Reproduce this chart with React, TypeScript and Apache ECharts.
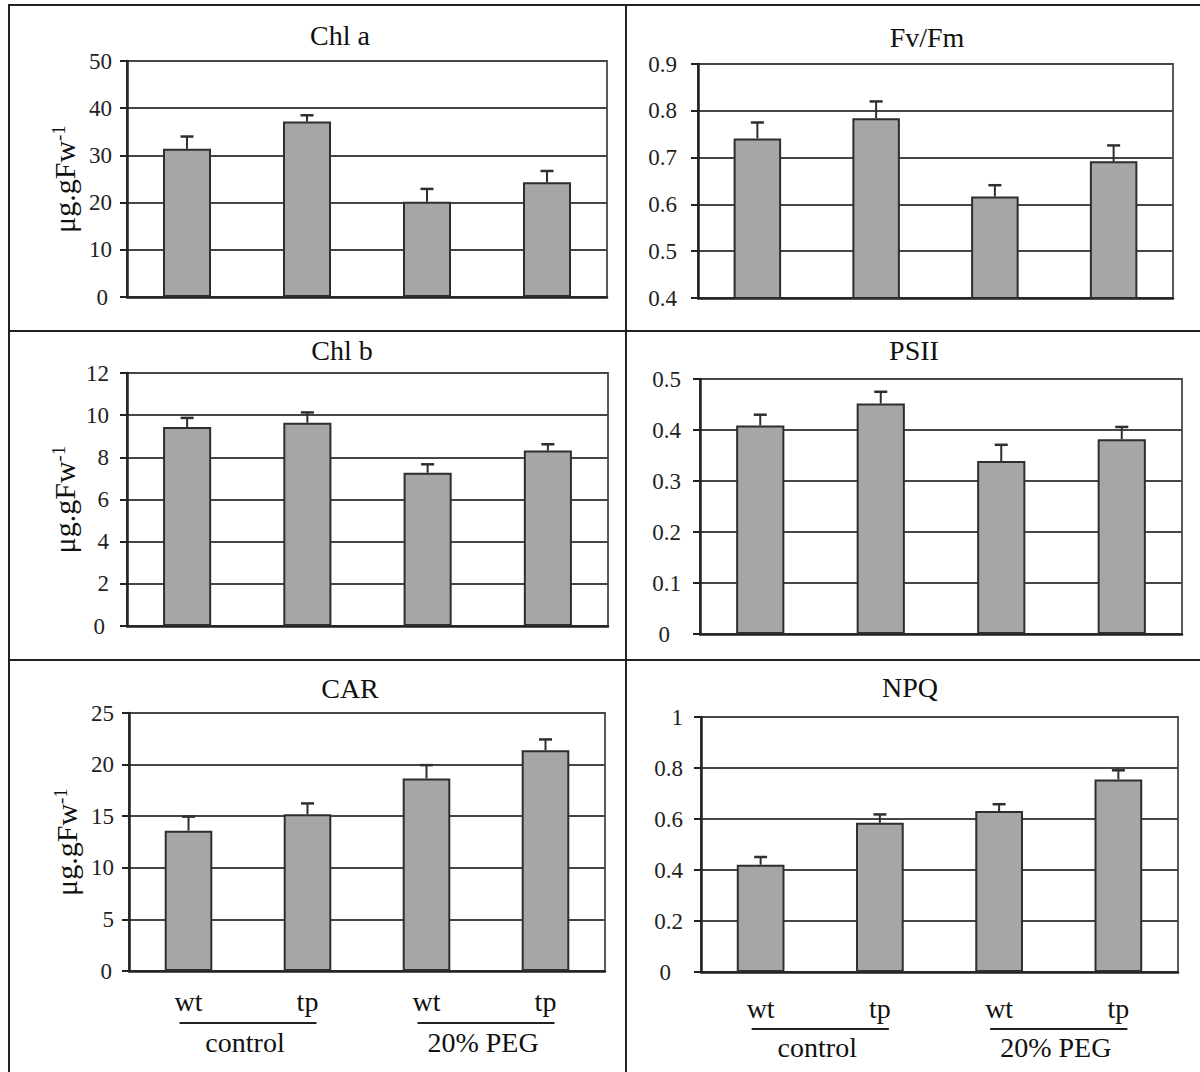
import React, { useEffect, useRef } from 'react';
import * as echarts from 'echarts';

// ---- data ----
const categories = ['wt', 'tp', 'wt', 'tp'];
const groupNames = ['control', '20% PEG'];
const titles = ['Chl a', 'Fv/Fm', 'Chl b', 'PSII', 'CAR', 'NPQ'];

const chlA = [31.4, 37.2, 20.2, 24.3];
const chlAErr = [2.6, 1.3, 2.7, 2.4];
const fvfm = [0.741, 0.784, 0.617, 0.692];
const fvfmErr = [0.034, 0.036, 0.024, 0.034];
const chlB = [9.44, 9.64, 7.27, 8.32];
const chlBErr = [0.43, 0.49, 0.4, 0.3];
const psii = [0.409, 0.452, 0.339, 0.382];
const psiiErr = [0.021, 0.023, 0.032, 0.024];
const car = [13.6, 15.2, 18.65, 21.4];
const carErr = [1.36, 1.04, 1.3, 1.04];
const npq = [0.421, 0.585, 0.631, 0.755];
const npqErr = [0.03, 0.033, 0.027, 0.036];

const yMin = [0, 0.4, 0, 0, 0, 0];
const yMax = [50, 0.9, 12, 0.5, 25, 1];
const yStep = [10, 0.1, 2, 0.1, 5, 0.2];
const yDecimals = [0, 1, 0, 1, 0, 1];
const yUnit = 'μg.gFw';

const values = [chlA, fvfm, chlB, psii, car, npq];
const errors = [chlAErr, fvfmErr, chlBErr, psiiErr, carErr, npqErr];

// ---- layout ----
const W = 1200;
const H = 1072;
const FONT = "'Liberation Serif', 'Times New Roman', serif";
const grids = [
  { left: 127, top: 61, width: 480, height: 236 },
  { left: 698, top: 64, width: 475, height: 234 },
  { left: 127, top: 373, width: 481, height: 253 },
  { left: 700, top: 379, width: 482, height: 255 },
  { left: 129, top: 713, width: 476, height: 258 },
  { left: 701, top: 717, width: 477, height: 255 },
];
const titlePos = [
  [340, 35], [927, 37], [342, 350], [914, 350], [350, 688], [910, 687],
];
const labelMargin = [15, 21, 18, 19, 15, 18];
const zeroPad = [4, 2, 4, 11, 2, 12];
const hasUnit = [true, false, true, false, true, false];
const hasXLabels = [false, false, false, false, true, true];
const xLabelMargin = [0, 0, 0, 0, 16, 22];
const groupLineOffset = [0, 0, 0, 0, 52, 57];
const groupTextOffset = [0, 0, 0, 0, 71, 75];

export default function App() {
  const ref = useRef<HTMLDivElement>(null);

  useEffect(() => {
    if (!ref.current) return;
    const chart = echarts.init(ref.current, undefined, { renderer: 'svg', width: W, height: H });

    const gridOpts = grids.map((g) => ({
      ...g,
      show: true,
      borderColor: '#5a5a5a',
      borderWidth: 2,
      backgroundColor: 'transparent',
      containLabel: false,
      outerBoundsMode: 'none',
    }));

    const xAxes = grids.map((_, i) => ({
      type: 'category',
      gridIndex: i,
      data: categories,
      axisLine: { show: true, onZero: false, lineStyle: { color: '#222', width: 2.5 } },
      axisTick: { show: false },
      axisLabel: {
        show: hasXLabels[i],
        margin: xLabelMargin[i],
        fontFamily: FONT,
        fontSize: 28,
        color: '#111',
      },
      splitLine: { show: false },
    }));

    const yAxes = grids.map((_, i) => ({
      type: 'value',
      gridIndex: i,
      min: yMin[i],
      max: yMax[i],
      interval: yStep[i],
      name: hasUnit[i] ? `{a|${yUnit}}{b|-1}` : '',
      nameLocation: 'middle',
      nameRotate: 90,
      nameGap: 48,
      nameTextStyle: {
        fontFamily: FONT,
        color: '#111',
        rich: {
          a: { fontFamily: FONT, fontSize: 30, color: '#111' },
          b: { fontFamily: FONT, fontSize: 19, color: '#111', verticalAlign: 'top' },
        },
      },
      axisLine: { show: true, lineStyle: { color: '#222', width: 2.5 } },
      axisTick: { show: true, length: 7, lineStyle: { color: '#222', width: 2 } },
      axisLabel: {
        margin: labelMargin[i],
        fontFamily: FONT,
        fontSize: 23,
        color: '#222',
        formatter: (v: number) => {
          if (Math.abs(v) < 1e-9) return '{z|0}';
          const d = Math.abs(v - Math.round(v)) < 1e-9 ? 0 : yDecimals[i];
          return v.toFixed(d);
        },
        rich: {
          z: { fontFamily: FONT, fontSize: 23, color: '#222', padding: [0, zeroPad[i], 0, 0] },
        },
      },
      splitLine: { show: true, lineStyle: { color: '#454545', width: 2 } },
    }));

    const series: any[] = [];
    values.forEach((vals, i) => {
      series.push({
        type: 'bar',
        xAxisIndex: i,
        yAxisIndex: i,
        data: vals,
        barWidth: '40%',
        itemStyle: { color: '#a6a6a6', borderColor: '#2e2e2e', borderWidth: 2 },
        z: 2,
      });
      series.push({
        type: 'custom',
        xAxisIndex: i,
        yAxisIndex: i,
        z: 3,
        data: vals.map((v, k) => [k, v, errors[i][k]]),
        encode: { x: 0, y: 1 },
        renderItem: (_p: any, api: any) => {
          const k = api.value(0);
          const v = api.value(1);
          const e = api.value(2);
          const p0 = api.coord([k, v]);
          const p1 = api.coord([k, v + e]);
          const style = { stroke: '#2e2e2e', lineWidth: 2 };
          return {
            type: 'group',
            children: [
              { type: 'line', shape: { x1: p0[0], y1: p0[1], x2: p1[0], y2: p1[1] }, style },
              { type: 'line', shape: { x1: p1[0] - 6.5, y1: p1[1], x2: p1[0] + 6.5, y2: p1[1] }, style: { ...style, lineWidth: 2.5 } },
            ],
          };
        },
      });
    });

    chart.setOption({
      animation: false,
      backgroundColor: '#ffffff',
      grid: gridOpts,
      xAxis: xAxes,
      yAxis: yAxes,
      series,
    });

    // graphic: frame, titles, group labels
    const frameStyle = { stroke: '#222', lineWidth: 2 };
    const graphic: any[] = [
      { type: 'line', shape: { x1: 8, y1: 5, x2: 1200, y2: 5 }, style: frameStyle },
      { type: 'line', shape: { x1: 9, y1: 5, x2: 9, y2: 1072 }, style: frameStyle },
      { type: 'line', shape: { x1: 626, y1: 5, x2: 626, y2: 1072 }, style: frameStyle },
      { type: 'line', shape: { x1: 9, y1: 331, x2: 1200, y2: 331 }, style: frameStyle },
      { type: 'line', shape: { x1: 9, y1: 660, x2: 1200, y2: 660 }, style: frameStyle },
    ];
    titles.forEach((t, i) => {
      graphic.push({
        type: 'text',
        x: titlePos[i][0],
        y: titlePos[i][1],
        style: {
          text: t,
          fontFamily: FONT,
          fontSize: 28,
          fill: '#111',
          textAlign: 'center',
          textVerticalAlign: 'middle',
        },
      });
    });
    grids.forEach((_, i) => {
      if (!hasXLabels[i]) return;
      const base = chart.convertToPixel({ yAxisIndex: i } as any, yMin[i]) as number;
      groupNames.forEach((name, gIdx) => {
        const a = chart.convertToPixel({ xAxisIndex: i } as any, gIdx * 2) as number;
        const b = chart.convertToPixel({ xAxisIndex: i } as any, gIdx * 2 + 1) as number;
        const mid = (a + b) / 2;
        graphic.push({
          type: 'line',
          shape: { x1: a - 9, y1: base + groupLineOffset[i], x2: b + 9, y2: base + groupLineOffset[i] },
          style: { stroke: '#222', lineWidth: 2 },
        });
        graphic.push({
          type: 'text',
          x: mid - 3,
          y: base + groupTextOffset[i],
          style: {
            text: name,
            fontFamily: FONT,
            fontSize: 28,
            fill: '#111',
            textAlign: 'center',
            textVerticalAlign: 'middle',
          },
        });
      });
    });
    chart.setOption({ graphic });

    return () => chart.dispose();
  }, []);

  return (
    <div
      ref={ref}
      style={{ position: 'absolute', left: 0, top: 0, width: W, height: H, background: '#fff' }}
    />
  );
}
